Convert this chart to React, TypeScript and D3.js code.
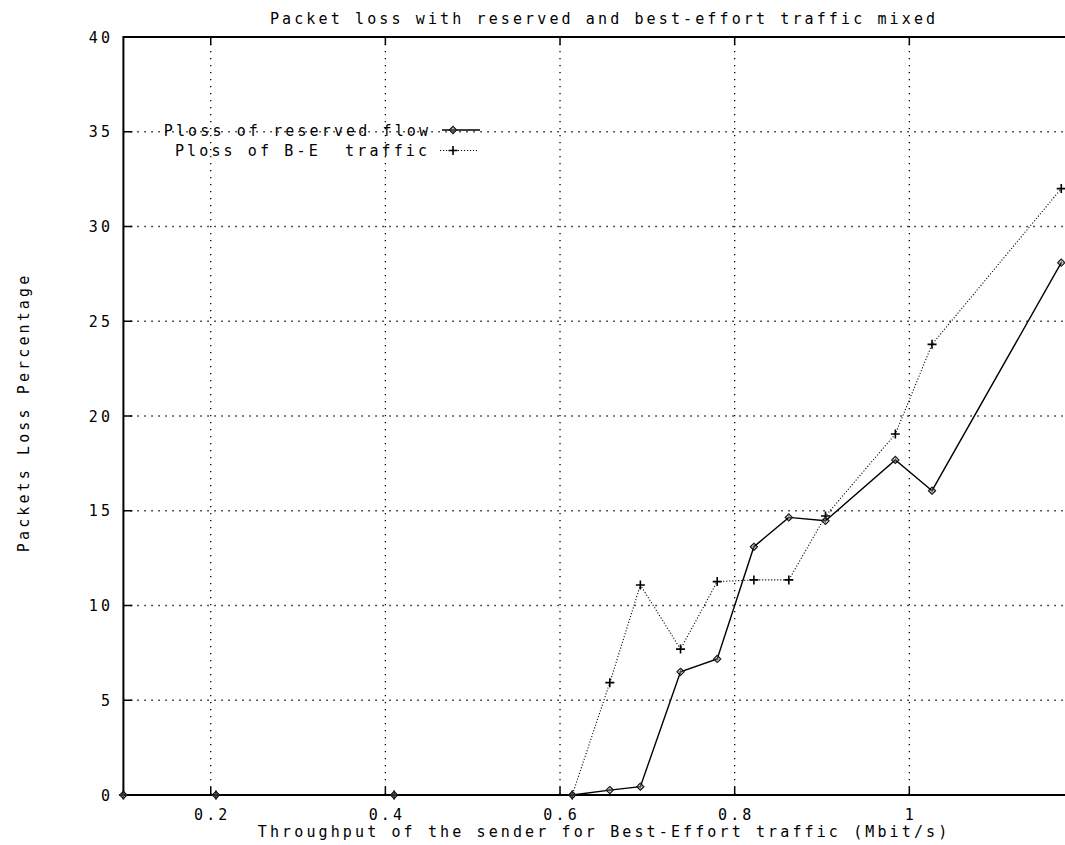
import React from "react";
import * as d3 from "d3";

// Offered load of the best-effort sender (Mbit/s)
const throughput = [0.1, 0.206, 0.41, 0.614, 0.657, 0.692, 0.738, 0.78, 0.822, 0.862, 0.904, 0.984, 1.026, 1.174];
// Packet loss (%) of the reserved flow
const reservedLoss = [0, 0, 0, 0, 0.26, 0.44, 6.5, 7.18, 13.1, 14.65, 14.47, 17.68, 16.06, 28.09];
// Packet loss (%) of the best-effort traffic
const bestEffortLoss = [0, 0, 0, 0, 5.93, 11.08, 7.7, 11.26, 11.35, 11.35, 14.72, 19.05, 23.78, 32.0];

const xTicks = [0.2, 0.4, 0.6, 0.8, 1];
const yTicks = [0, 5, 10, 15, 20, 25, 30, 35, 40];

const title = "Packet loss with reserved and best-effort traffic mixed";
const xLabel = "Throughput of the sender for Best-Effort traffic (Mbit/s)";
const yLabel = "Packets Loss Percentage";
const seriesNames = ["Ploss of reserved flow", "Ploss of B-E  traffic"];

const W = 1065;
const H = 845;
const LEFT = 123.4;
const TOP = 37;
const BOTTOM = 795;

// wide-spaced monospace text, similar to a terminal plotting font
const FS = 15;
const ADV = 12.15;
const LS = ADV - FS * 0.602;

function Mono({ x, y, anchor = "start", children, transform }: any) {
  const s = String(children);
  const w = s.length * ADV - LS;
  const x0 = anchor === "middle" ? x - w / 2 : anchor === "end" ? x - w : x;
  return (
    <text
      x={x0}
      y={y}
      transform={transform}
      fontFamily="'DejaVu Sans Mono', 'Liberation Mono', monospace"
      fontSize={FS}
      fill="#000"
      style={{ letterSpacing: `${LS}px`, whiteSpace: "pre" }}
      xmlSpace="preserve"
    >
      {s}
    </text>
  );
}

function Diamond({ cx, cy }: { cx: number; cy: number }) {
  const r = 3.6;
  return (
    <g>
      <path
        d={`M${cx},${cy - r}L${cx + r},${cy}L${cx},${cy + r}L${cx - r},${cy}Z`}
        fill="none"
        stroke="#000"
        strokeWidth={1.1}
      />
      <path d={`M${cx - r},${cy}L${cx + r},${cy}M${cx},${cy - r}L${cx},${cy + r}`} stroke="#555" strokeWidth={0.8} />
    </g>
  );
}

function Plus({ cx, cy }: { cx: number; cy: number }) {
  const r = 4.5;
  return (
    <path
      d={`M${cx - r},${cy}L${cx + r},${cy}M${cx},${cy - r}L${cx},${cy + r}`}
      stroke="#000"
      strokeWidth={1.6}
    />
  );
}

export default function App() {
  const x = d3.scaleLinear().domain([0.1, 1.18]).range([LEFT, LEFT + 1.08 * 873.25]);
  const y = d3.scaleLinear().domain([0, 40]).range([BOTTOM, TOP]);
  const RIGHT = x(1.18);

  const reserved = throughput.map((t, i) => [t, reservedLoss[i]] as [number, number]);
  const bestEffort = throughput.map((t, i) => [t, bestEffortLoss[i]] as [number, number]);

  const line = d3
    .line<[number, number]>()
    .x((d) => x(d[0]))
    .y((d) => y(d[1]));

  const grid = { stroke: "#000", strokeWidth: 1.3, strokeDasharray: "1.3,5.7", fill: "none" };

  return (
    <svg
      width={W}
      height={H}
      viewBox={`0 0 ${W} ${H}`}
      style={{ position: "absolute", left: 0, top: 0, background: "#fff" }}
    >
      <rect x={0} y={0} width={W} height={H} fill="#fff" />

      {/* grid */}
      {xTicks.map((t) => (
        <line key={`gx${t}`} x1={x(t)} x2={x(t)} y1={TOP} y2={BOTTOM} {...grid} />
      ))}
      {yTicks
        .filter((t) => t > 0 && t < 40)
        .map((t) => (
          <line key={`gy${t}`} x1={LEFT} x2={RIGHT} y1={y(t)} y2={y(t)} {...grid} />
        ))}

      {/* tick marks */}
      {xTicks.map((t) => (
        <g key={`tx${t}`} stroke="#000" strokeWidth={1.5}>
          <line x1={x(t)} x2={x(t)} y1={BOTTOM} y2={BOTTOM - 8} />
          <line x1={x(t)} x2={x(t)} y1={TOP} y2={TOP + 8} />
        </g>
      ))}
      {yTicks.map((t) => (
        <line key={`ty${t}`} x1={LEFT} x2={LEFT + 9} y1={y(t)} y2={y(t)} stroke="#000" strokeWidth={1.5} />
      ))}

      {/* border */}
      <path
        d={`M${RIGHT},${TOP}L${LEFT},${TOP}L${LEFT},${BOTTOM}L${RIGHT},${BOTTOM}`}
        fill="none"
        stroke="#000"
        strokeWidth={2}
      />

      {/* tick labels */}
      {xTicks.map((t) => (
        <Mono key={`lx${t}`} x={x(t)} y={819.5} anchor="middle">
          {String(t)}
        </Mono>
      ))}
      {yTicks.map((t) => (
        <Mono key={`ly${t}`} x={110} y={y(t) + 5.5} anchor="end">
          {String(t)}
        </Mono>
      ))}

      {/* series */}
      <path d={line(bestEffort) || ""} fill="none" stroke="#000" strokeWidth={1.1} strokeDasharray="1.1,1.9" />
      <path d={line(reserved) || ""} fill="none" stroke="#000" strokeWidth={1.4} />
      {bestEffort.map((d, i) => (
        <Plus key={`pb${i}`} cx={x(d[0])} cy={y(d[1])} />
      ))}
      {reserved.map((d, i) => (
        <Diamond key={`pr${i}`} cx={x(d[0])} cy={y(d[1])} />
      ))}

      {/* legend */}
      <Mono x={428} y={135.5} anchor="end">
        {seriesNames[0]}
      </Mono>
      <line x1={442} x2={480} y1={130} y2={130} stroke="#000" strokeWidth={1.4} />
      <Diamond cx={453} cy={130} />
      <Mono x={427} y={156} anchor="end">
        {seriesNames[1]}
      </Mono>
      <line x1={440} x2={477} y1={150.5} y2={150.5} stroke="#000" strokeWidth={1.1} strokeDasharray="1.1,1.9" />
      <Plus cx={453} cy={150.5} />

      {/* titles */}
      <Mono x={602.5} y={24} anchor="middle">
        {title}
      </Mono>
      <Mono x={602.5} y={837} anchor="middle">
        {xLabel}
      </Mono>
      <Mono x={0} y={0} anchor="middle" transform="translate(29,414) rotate(-90)">
        {yLabel}
      </Mono>
    </svg>
  );
}
